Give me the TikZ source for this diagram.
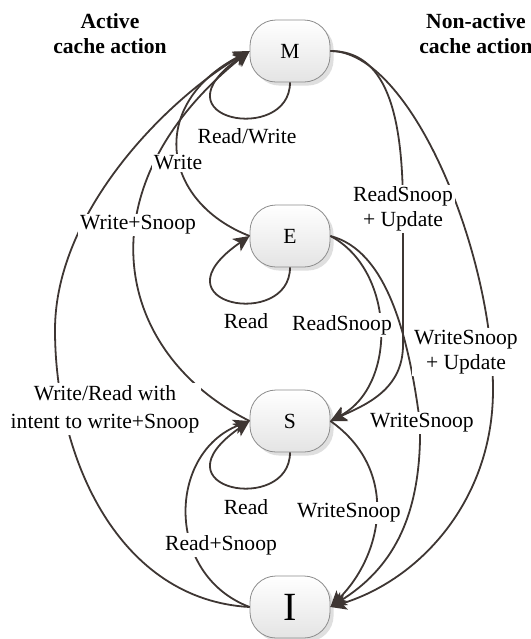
\documentclass[tikz,border=0pt]{standalone}
\usepackage{fontspec}
\setmainfont{Liberation Serif}
\usetikzlibrary{arrows.meta,shadows}
\definecolor{CLine}{HTML}{3E3633}
\definecolor{CBorder}{HTML}{8C8C8C}
\definecolor{CShade}{HTML}{E4E4E4}

\begin{document}
\begin{tikzpicture}[x=0.5pt,y=-0.5pt,
  cstate/.style={draw=CBorder, thin, rounded corners=13pt, top color=white, bottom color=CShade,
    minimum width=40pt, minimum height=31pt, inner sep=0pt, font=\fontsize{10.8}{13}\selectfont,
    drop shadow={shadow xshift=1.8pt, shadow yshift=-1.8pt, opacity=0.25}},
  trans/.style={CLine, line width=0.9pt, -{Stealth[length=8pt,width=7.5pt,inset=2pt]}},
  lbl/.style={fill=white, inner sep=1pt, align=center, font=\fontsize{10.8}{12.5}\selectfont},
  head/.style={align=center, font=\bfseries\fontsize{10.8}{12.5}\selectfont}]

  \useasboundingbox (0,0) rectangle (531,639);

  % ============================================
  % States
  % ============================================
  \node[cstate] (M) at (290,51) {M};
  \node[cstate] (E) at (290,236) {E};
  \node[cstate] (S) at (290,421) {S};
  \node[cstate, font=\fontsize{20}{24}\selectfont] (I) at (290,607) {I};

  % ============================================
  % Active side (left): into M, self loops, I -> S
  % ============================================
  \draw[trans] (I.west) .. controls (120,600) and (55,460) .. (55,330)
    .. controls (55,210) and (170,97) .. (M.west);
  \draw[trans] (S.west) .. controls (110,351) and (83,185) .. (M.west);
  \draw[trans] (E.west) .. controls (160,201) and (148,103) .. (M.west);

  % self loops
  \draw[trans] (M.south) .. controls (290,145) and (150,120) .. (M.west);
  \draw[trans] (E.south) .. controls (290,330) and (150,305) .. (E.west);
  \draw[trans] (S.south) .. controls (290,515) and (150,490) .. (S.west);

  \draw[trans] (I.west) .. controls (165,575) and (167,453) .. (S.west);

  % ============================================
  % Non-active side (right): snoops
  % ============================================
  \draw[trans] (M.east) .. controls (385,51) and (403,110) .. (403,210) -- (403,345)
    .. controls (403,390) and (365,405) .. (S.east);
  \draw[trans] (M.east) .. controls (410,51) and (493,250) .. (493,390)
    .. controls (493,500) and (420,580) .. (I.east);
  \draw[trans] (E.east) .. controls (395,270) and (398,385) .. (S.east);
  \draw[trans] (E.east) .. controls (385,250) and (408,330) .. (420,423)
    .. controls (422,520) and (390,570) .. (I.east);
  \draw[trans] (S.east) .. controls (400,470) and (383,555) .. (I.east);

  % Labels
  \node[lbl] (lRW) at (247,136) {Read/Write};
  \node[lbl] (lW) at (178,163) {Write};
  \node[lbl] (lWS) at (138,225) {Write+Snoop};
  \node[lbl, font=\fontsize{10.8}{14}\selectfont] (lWR) at (105,409) {Write/Read with\\intent to write+Snoop};
  \node[lbl] (lRE) at (246,321) {Read};
  \node[lbl] (lRS) at (246,507) {Read};
  \node[lbl] (lRSn) at (221,545) {Read+Snoop};
  \node[lbl] (lRSU) at (403,209) {ReadSnoop\\+ Update};
  \node[lbl] (lRSE) at (342,325) {ReadSnoop};
  \node[lbl] (lWSU) at (466,352) {WriteSnoop\\+ Update};
  \node[lbl] (lWSE) at (422,423) {WriteSnoop};
  \node[lbl] (lWSS) at (349,513) {WriteSnoop};

  \node[head] (hAct) at (110,34) {Active\\cache action};
  \node[head] (hNon) at (476,34) {Non-active\\cache action};

\end{tikzpicture}
\end{document}
